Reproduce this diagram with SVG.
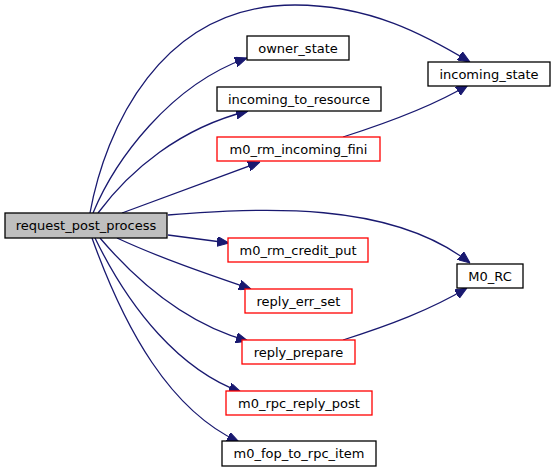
<svg xmlns="http://www.w3.org/2000/svg" width="557" height="473" viewBox="0 0 557 473">
<style>
.n rect{fill:#ffffff;stroke:#000000;stroke-width:1.3}
.n.r rect{stroke:#ff0000}
.n.root rect{fill:#bfbfbf}
.n text{font-family:"DejaVu Sans",sans-serif;font-size:13px;text-anchor:middle;fill:#000000}
.e path{fill:none;stroke:#191970;stroke-width:1.3}
</style>
<defs>
<marker id="ah" markerUnits="userSpaceOnUse" markerWidth="12" markerHeight="10" refX="12" refY="5" orient="auto">
<polygon points="0,0 12,5 0,10" fill="#191970" stroke="#191970" stroke-width="1"/>
</marker>
</defs>
<rect width="557" height="473" fill="#ffffff"/>
<g id="connectors" class="e">
<path d="M90,213 C105,130 160,5 295,5 C370,5 425,35 470,62" marker-end="url(#ah)"/>
<path d="M93,213 C115,160 170,85 247,58" marker-end="url(#ah)"/>
<path d="M98,213 C130,170 180,128 248,111" marker-end="url(#ah)"/>
<path d="M122,213 L260,162" marker-end="url(#ah)"/>
<path d="M343,137 C390,122 435,105 468,85" marker-end="url(#ah)"/>
<path d="M168,215 C260,208 390,200 470,263" marker-end="url(#ah)"/>
<path d="M168,235 L229,243" marker-end="url(#ah)"/>
<path d="M117,238 C160,258 210,275 251,289" marker-end="url(#ah)"/>
<path d="M100,238 C140,285 190,325 248,341" marker-end="url(#ah)"/>
<path d="M95,238 C130,310 180,370 241,392" marker-end="url(#ah)"/>
<path d="M92,238 C125,330 170,410 239,442" marker-end="url(#ah)"/>
<path d="M343,340 C390,325 430,310 467,288" marker-end="url(#ah)"/>
</g>
<g id="request_post_process" class="n root"><rect x="5" y="213" width="162" height="25"/><text x="86" y="230">request_post_process</text></g>
<g id="owner_state" class="n"><rect x="247" y="36" width="102" height="24"/><text x="298" y="52.5">owner_state</text></g>
<g id="incoming_to_resource" class="n"><rect x="217" y="87" width="164" height="24"/><text x="299" y="103.5">incoming_to_resource</text></g>
<g id="m0_rm_incoming_fini" class="n r"><rect x="217" y="137" width="163" height="24"/><text x="298.5" y="153.5">m0_rm_incoming_fini</text></g>
<g id="incoming_state" class="n"><rect x="428" y="62" width="122" height="24"/><text x="489" y="78.5">incoming_state</text></g>
<g id="M0_RC" class="n"><rect x="457" y="264" width="66" height="24"/><text x="490" y="280.5">M0_RC</text></g>
<g id="m0_rm_credit_put" class="n r"><rect x="228" y="238" width="140" height="24"/><text x="298" y="254.5">m0_rm_credit_put</text></g>
<g id="reply_err_set" class="n r"><rect x="245" y="289" width="107" height="24"/><text x="298.5" y="305.5">reply_err_set</text></g>
<g id="reply_prepare" class="n r"><rect x="242" y="340" width="113" height="24"/><text x="298.5" y="356.5">reply_prepare</text></g>
<g id="m0_rpc_reply_post" class="n r"><rect x="226" y="391" width="146" height="24"/><text x="299" y="407.5">m0_rpc_reply_post</text></g>
<g id="m0_fop_to_rpc_item" class="n"><rect x="222" y="441" width="154" height="25"/><text x="299" y="458">m0_fop_to_rpc_item</text></g>
</svg>
